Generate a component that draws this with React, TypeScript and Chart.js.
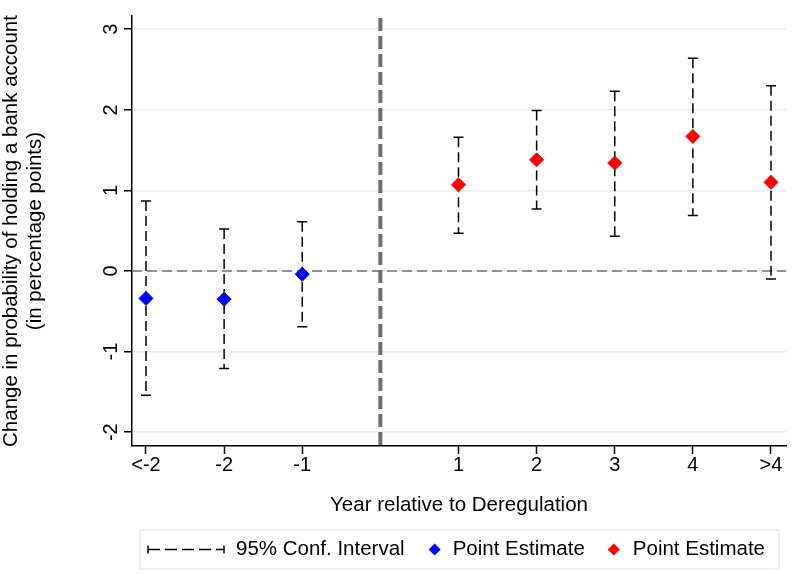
import { useEffect, useRef } from 'react';
import { Chart, registerables } from 'chart.js';

Chart.register(...registerables);

const FONT = "'Liberation Sans', Arial, sans-serif";

const periods = [-3, -2, -1, 1, 2, 3, 4, 5];
const periodLabels = ['<-2', '-2', '-1', '1', '2', '3', '4', '>4'];
const estimates = [-0.34, -0.35, -0.04, 1.07, 1.38, 1.34, 1.67, 1.1];
const ciLower = [-1.54, -1.21, -0.69, 0.47, 0.77, 0.43, 0.69, -0.1];
const ciUpper = [0.87, 0.52, 0.61, 1.66, 1.99, 2.23, 2.64, 2.3];
const yTickValues = [-2, -1, 0, 1, 2, 3];
const deregulationX = 0;
const zeroY = 0;
const legendLabels = ['95% Conf. Interval', 'Point Estimate', 'Point Estimate'];
const xTitle = 'Year relative to Deregulation';
const yTitle = ['Change in probability of holding a bank account', '(in percentage points)'];

const BLUE = '#0000ff';
const RED = '#ff0000';

const refLinesPlugin = {
  id: 'refLines',
  beforeDatasetsDraw(chart: any) {
    const { ctx, chartArea: a, scales } = chart;
    const x = scales.x;
    const y = scales.y;
    ctx.save();
    const y0 = y.getPixelForValue(zeroY);
    ctx.strokeStyle = '#707070';
    ctx.lineWidth = 1.3;
    ctx.setLineDash([10, 5]);
    ctx.beginPath();
    ctx.moveTo(a.left, y0);
    ctx.lineTo(a.right, y0);
    ctx.stroke();

    const x0 = x.getPixelForValue(deregulationX);
    ctx.strokeStyle = '#6e6e6e';
    ctx.lineWidth = 4;
    ctx.setLineDash([13, 5]);
    ctx.beginPath();
    ctx.moveTo(x0, a.top + 2);
    ctx.lineTo(x0, a.bottom);
    ctx.stroke();

    ctx.strokeStyle = '#000';
    ctx.lineWidth = 1.5;
    periods.forEach((p, i) => {
      const px = x.getPixelForValue(p);
      const yh = y.getPixelForValue(ciUpper[i]);
      const yl = y.getPixelForValue(ciLower[i]);
      ctx.setLineDash([10, 5]);
      ctx.beginPath();
      ctx.moveTo(px, yh);
      ctx.lineTo(px, yl);
      ctx.stroke();
      ctx.setLineDash([]);
      ctx.beginPath();
      ctx.moveTo(px - 5, yh);
      ctx.lineTo(px + 5, yh);
      ctx.moveTo(px - 5, yl);
      ctx.lineTo(px + 5, yl);
      ctx.stroke();
    });
    ctx.restore();
  },
};

const legendPlugin = {
  id: 'boxLegend',
  afterDraw(chart: any) {
    const { ctx } = chart;
    const boxLeft = 140;
    const boxTop = 530;
    const boxW = 639;
    const boxH = 39;
    const midY = 549.5;
    ctx.save();
    ctx.strokeStyle = '#e4ebef';
    ctx.lineWidth = 1.5;
    ctx.strokeRect(boxLeft, boxTop, boxW, boxH);

    ctx.font = `20.5px ${FONT}`;
    ctx.textBaseline = 'middle';
    ctx.textAlign = 'left';
    ctx.fillStyle = '#000';

    let cx = 148;
    ctx.strokeStyle = '#000';
    ctx.lineWidth = 1.5;
    ctx.setLineDash([]);
    ctx.beginPath();
    ctx.moveTo(cx, midY - 4);
    ctx.lineTo(cx, midY + 4);
    ctx.moveTo(cx + 76, midY - 4);
    ctx.lineTo(cx + 76, midY + 4);
    ctx.stroke();
    ctx.setLineDash([12, 5]);
    ctx.beginPath();
    ctx.moveTo(cx, midY);
    ctx.lineTo(cx + 76, midY);
    ctx.stroke();
    ctx.setLineDash([]);
    cx += 88;
    ctx.fillText(legendLabels[0], cx, midY);
    cx += ctx.measureText(legendLabels[0]).width + 30;

    const diamond = (c: number, color: string) => {
      ctx.fillStyle = color;
      ctx.beginPath();
      ctx.moveTo(c, midY - 6);
      ctx.lineTo(c + 6, midY);
      ctx.lineTo(c, midY + 6);
      ctx.lineTo(c - 6, midY);
      ctx.closePath();
      ctx.fill();
    };
    diamond(cx, BLUE);
    cx += 18;
    ctx.fillStyle = '#000';
    ctx.fillText(legendLabels[1], cx, midY);
    cx += ctx.measureText(legendLabels[1]).width + 29;
    diamond(cx, RED);
    cx += 19;
    ctx.fillStyle = '#000';
    ctx.fillText(legendLabels[2], cx, midY);
    ctx.restore();
  },
};

export default function App() {
  const ref = useRef<HTMLCanvasElement | null>(null);

  useEffect(() => {
    if (!ref.current) return;
    const points = periods.map((p, i) => ({ x: p, y: estimates[i] }));
    const chart = new Chart(ref.current, {
      type: 'scatter',
      data: {
        datasets: [
          {
            label: 'Point Estimate',
            data: points.filter((d) => d.x < deregulationX),
            pointStyle: 'rectRot',
            pointRadius: 7,
            pointBackgroundColor: BLUE,
            pointBorderColor: BLUE,
            pointBorderWidth: 1,
            showLine: false,
          },
          {
            label: 'Point Estimate',
            data: points.filter((d) => d.x > deregulationX),
            pointStyle: 'rectRot',
            pointRadius: 7,
            pointBackgroundColor: RED,
            pointBorderColor: RED,
            pointBorderWidth: 1,
            showLine: false,
          },
        ],
      },
      options: {
        animation: false,
        responsive: true,
        maintainAspectRatio: false,
        layout: { padding: { top: 16, right: 13, left: 0, bottom: 0 } },
        plugins: {
          legend: { display: false },
          tooltip: { enabled: false },
        },
        scales: {
          x: {
            type: 'linear',
            min: -3.179,
            max: 5.192,
            afterBuildTicks: (s: any) => {
              s.ticks = periods.map((v) => ({ value: v }));
            },
            afterFit: (s: any) => {
              s.height = 128;
              s.paddingLeft = 0;
              s.paddingRight = 0;
            },
            ticks: {
              autoSkip: false,
              maxRotation: 0,
              minRotation: 0,
              padding: 0,
              color: '#000',
              font: { family: FONT, size: 20, lineHeight: 1.1 },
              callback: (v: any) => {
                const i = periods.indexOf(Number(v));
                return i >= 0 ? periodLabels[i] : '';
              },
            },
            grid: {
              drawOnChartArea: false,
              tickLength: 8,
              tickWidth: 1.5,
              tickColor: '#000',
            },
            border: { color: '#000', width: 1.5 },
            title: {
              display: true,
              text: xTitle,
              color: '#000',
              font: { family: FONT, size: 20.5, lineHeight: 1.2 },
              padding: { top: 0, bottom: 56.7 },
            },
          },
          y: {
            type: 'linear',
            min: -2.171,
            max: 3.164,
            afterBuildTicks: (s: any) => {
              s.ticks = yTickValues.map((v) => ({ value: v }));
            },
            afterFit: (s: any) => {
              s.width = 132;
              s.paddingTop = 0;
              s.paddingBottom = 0;
            },
            ticks: {
              minRotation: 90,
              maxRotation: 90,
              crossAlign: 'center',
              padding: 4,
              color: '#000',
              font: { family: FONT, size: 20 },
              callback: (v: any) => String(v),
            },
            grid: {
              color: '#e8eef2',
              lineWidth: 1.5,
              tickLength: 8,
              tickWidth: 1.5,
              tickColor: '#000',
            },
            border: { color: '#000', width: 1.5 },
            title: {
              display: true,
              text: yTitle,
              color: '#000',
              font: { family: FONT, size: 20.5, lineHeight: 1.15 },
              padding: { top: 0, bottom: 0 },
            },
          },
        },
      } as any,
      plugins: [refLinesPlugin, legendPlugin],
    });
    return () => chart.destroy();
  }, []);

  return (
    <div style={{ position: 'absolute', left: 0, top: 0, width: 799, height: 574, background: '#fff' }}>
      <canvas ref={ref} />
    </div>
  );
}
